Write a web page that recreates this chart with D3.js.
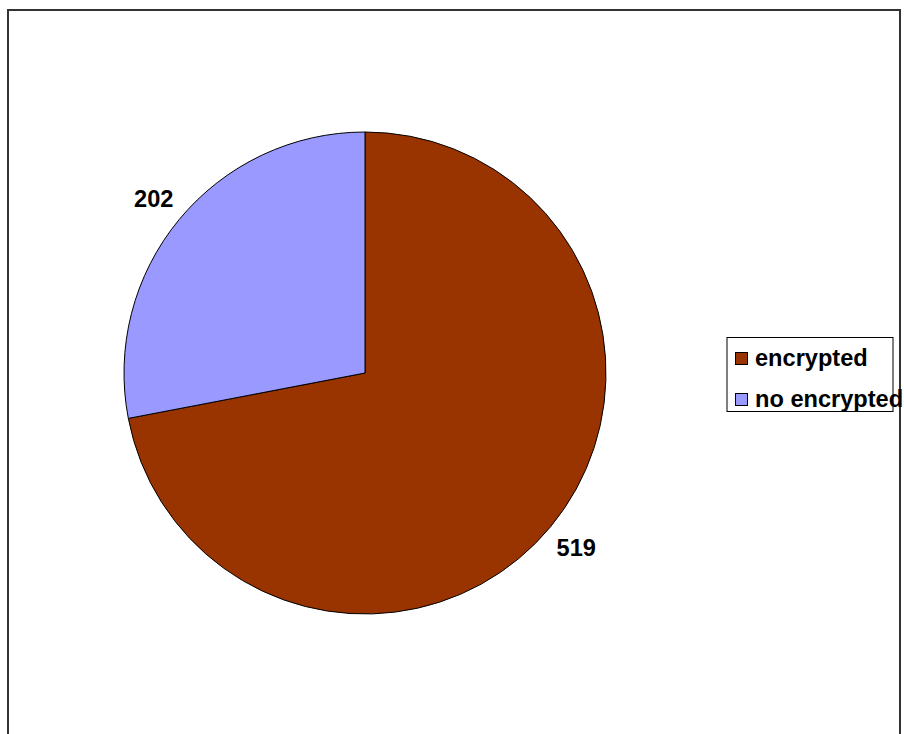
<!DOCTYPE html>
<html>
<head>
<meta charset="utf-8">
<script src="https://cdn.jsdelivr.net/npm/d3@7"></script>
<style>
  html, body { margin: 0; padding: 0; background: #ffffff; }
  svg { display: block; }
</style>
</head>
<body>
<svg id="chart" width="904" height="734"></svg>
<script>
const categories = ["encrypted", "no encrypted"];
const values = [519, 202];
const colors = ["#993300", "#9999FF"];

const svg = d3.select("#chart");

// outer chart border
svg.append("rect")
  .attr("x", 8).attr("y", 10)
  .attr("width", 892).attr("height", 740)
  .attr("fill", "#ffffff")
  .attr("stroke", "#333333")
  .attr("stroke-width", 2);

const cx = 365, cy = 373, R = 241;
const g = svg.append("g").attr("transform", `translate(${cx},${cy})`);

const data = categories.map((c, i) => ({ name: c, value: values[i], color: colors[i] }));
const pie = d3.pie().value(d => d.value).sort(null);
const arcs = pie(data);
const arc = d3.arc().innerRadius(0).outerRadius(R);
const labelArc = d3.arc().innerRadius(274).outerRadius(274);

g.selectAll("path.slice")
  .data(arcs)
  .enter().append("path")
  .attr("class", "slice")
  .attr("d", arc)
  .attr("fill", d => d.data.color)
  .attr("stroke", "#000000")
  .attr("stroke-width", 1)
  .attr("stroke-linejoin", "round");

g.selectAll("text.lbl")
  .data(arcs)
  .enter().append("text")
  .attr("class", "lbl")
  .attr("transform", d => `translate(${labelArc.centroid(d)})`)
  .attr("text-anchor", "middle")
  .attr("dy", "0.36em")
  .attr("font-family", "Arial, 'Liberation Sans', sans-serif")
  .attr("font-weight", "bold")
  .attr("font-size", "23.6px")
  .attr("fill", "#000000")
  .text(d => d.data.value);

// legend
const lg = svg.append("g");
lg.append("rect")
  .attr("x", 727).attr("y", 337.5)
  .attr("width", 166).attr("height", 74)
  .attr("fill", "#ffffff")
  .attr("stroke", "#000000")
  .attr("stroke-width", 1);

const items = lg.selectAll("g.item")
  .data(data)
  .enter().append("g")
  .attr("class", "item")
  .attr("transform", (d, i) => `translate(735, ${352 + i * 41})`);

items.append("rect")
  .attr("x", 0.5).attr("y", 0.5)
  .attr("width", 12).attr("height", 12)
  .attr("fill", d => d.color)
  .attr("stroke", "#000000")
  .attr("stroke-width", 1);

items.append("text")
  .attr("x", 20)
  .attr("y", 14)
  .attr("font-family", "Arial, 'Liberation Sans', sans-serif")
  .attr("font-weight", "bold")
  .attr("font-size", "23.6px")
  .attr("fill", "#000000")
  .text(d => d.name);
</script>
</body>
</html>
